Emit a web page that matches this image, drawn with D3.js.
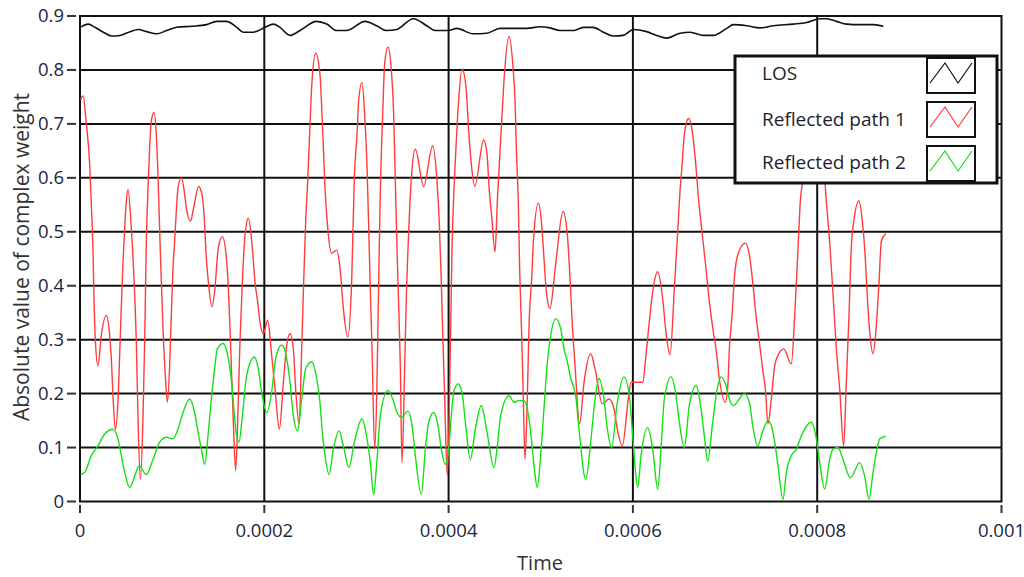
<!DOCTYPE html>
<html>
<head>
<meta charset="utf-8">
<script src="https://cdn.jsdelivr.net/npm/d3@7"></script>
<style>
    body { margin: 0; background: #ffffff; }
    text { font-family: "Open Sans", "Segoe UI", sans-serif; }
</style>
</head>
<body>
<script>
// time in microseconds, value = absolute value of complex weight
const losData = [
    [0, .879], [9.0, .885], [16.3, .879], [25.3, .870], [34.4, .863], [43.4, .864], [54.3, .871], [63.3, .875],
    [72.3, .871], [83.2, .867], [94.1, .873], [104.9, .879], [121.0, .881], [137.5, .884], [148.3, .890], [159.2, .890],
    [170.0, .879], [177.2, .870], [188.1, .870], [200.8, .879], [209.8, .885], [217.0, .879], [227.9, .864], [238.7, .873],
    [256.8, .890], [267.7, .885], [278.5, .873], [289.4, .873], [309.3, .890], [321.9, .882], [332.8, .873], [343.6, .875],
    [361.7, .895], [376.2, .882], [385.2, .873], [399.7, .873], [408.8, .877], [426.8, .867], [441.3, .868], [455.8, .877],
    [484.7, .877], [499.2, .880], [510.0, .878], [520.9, .873], [535.4, .873], [546.2, .879], [557.1, .879], [567.9, .870],
    [578.8, .863], [589.6, .864], [600.5, .875], [614.9, .871], [625.8, .864], [636.7, .859], [651.1, .868], [662.0, .870],
    [676.4, .864], [687.3, .864], [701.8, .877], [709.0, .884], [723.5, .882], [737.9, .878], [752.4, .882], [774.1, .885],
    [788.6, .888], [803.0, .895], [810.3, .895], [821.1, .890], [832.0, .885], [846.5, .884], [860.9, .884], [871.8, .881]
];

const path1Data = [
    [0.7, .745], [3.3, .752], [6.9, .70], [10.5, .625], [12.3, .55], [14.1, .463], [15.2, .376], [16.6, .30], [19.5, .252],
    [23.1, .308], [28.6, .345], [32.2, .308], [34.0, .265], [35.8, .196], [38.3, .134], [41.2, .184], [43.0, .27], [44.9, .364],
    [46.7, .445], [48.5, .507], [50.3, .557], [52.1, .578], [55.7, .507], [58.6, .414], [61.1, .296], [62.9, .159], [65.5, .041],
    [68.4, .159], [70.2, .30], [72.0, .482], [73.8, .581], [75.6, .656], [77.4, .705], [80.3, .721], [82.8, .68], [84.6, .606],
    [87.5, .445], [90.1, .32], [92.6, .234], [94.8, .184], [97.3, .252], [99.1, .345], [100.9, .432], [102.7, .482], [104.5, .538],
    [106.3, .581], [110.0, .60], [113.6, .569], [115.4, .544], [120.1, .52], [122.6, .538], [128.8, .584], [132.4, .569],
    [134.6, .532], [137.1, .451], [138.9, .414], [143.2, .361], [146.1, .389], [150.1, .47], [154.5, .491], [159.2, .445],
    [161.0, .395], [162.8, .32], [164.6, .234], [166.4, .147], [168.9, .057], [171.8, .19], [173.6, .296], [176.2, .407],
    [179.1, .494], [182.7, .525], [187.0, .47], [189.9, .407], [192.8, .37], [195.3, .333], [198.9, .311], [203.7, .336],
    [208.0, .271], [211.6, .209], [216.3, .134], [220.7, .221], [224.3, .29], [227.9, .311], [231.5, .283], [234.0, .209],
    [237.7, .144], [240.6, .283], [242.4, .389], [244.9, .519], [247.1, .594], [249.6, .699], [251.4, .768], [255.7, .831],
    [260.4, .792], [262.3, .73], [264.1, .656], [265.9, .581], [268.8, .507], [273.1, .46], [278.5, .466], [282.2, .432],
    [285.8, .358], [290.5, .305], [294.8, .407], [297.7, .60], [300.6, .68], [302.4, .743], [306.0, .777], [308.9, .718],
    [311.5, .619], [313.3, .507], [315.1, .389], [316.9, .283], [319.8, .097], [322.3, .221], [324.1, .407], [325.9, .575],
    [328.5, .718], [330.6, .811], [334.2, .842], [337.9, .799], [340.4, .718], [342.2, .594], [344.0, .47], [345.8, .364],
    [347.6, .252], [349.4, .072], [352.3, .246], [354.1, .376], [356.7, .50], [359.6, .60], [363.9, .653], [372.9, .584],
    [382.7, .659], [387.4, .594], [390.0, .513], [392.1, .407], [393.6, .314], [395.7, .196], [398.6, .047], [401.9, .283],
    [403.7, .47], [405.5, .563], [408.0, .656], [410.9, .743], [414.5, .802], [418.9, .768], [421.8, .687], [424.7, .625],
    [428.3, .584], [438.1, .67], [441.7, .643], [444.2, .575], [446.7, .53], [450.4, .463], [452.9, .557], [455.4, .637],
    [457.6, .705], [460.1, .78], [465.6, .862], [469.9, .805], [472.1, .743], [473.5, .656], [475.7, .55], [477.1, .432],
    [479.3, .308], [481.1, .19], [482.9, .078], [485.4, .19], [487.3, .327], [490.2, .414], [492.0, .482], [497.4, .553],
    [501.0, .513], [503.5, .451], [506.1, .389], [510.0, .358], [516.2, .44], [524.2, .538], [528.9, .494], [531.4, .426],
    [534.3, .327], [537.2, .252], [542.2, .144], [546.9, .22], [554.2, .274], [558.9, .246], [566.8, .181], [574.1, .19],
    [579.5, .172], [583.1, .134], [588.5, .103], [595.0, .19], [598.0, .221], [610.6, .221], [614.2, .271], [617.8, .333],
    [621.5, .389], [626.9, .426], [632.3, .376], [635.9, .314], [640.3, .272], [645.0, .395], [648.6, .50], [651.1, .575],
    [653.3, .622], [655.8, .68], [660.5, .71], [664.9, .68], [668.5, .619], [671.4, .557], [675.0, .50], [679.3, .432],
    [683.0, .37], [687.3, .314], [690.2, .283], [693.8, .228], [700.3, .184], [702.8, .209], [704.7, .283], [707.6, .345],
    [710.1, .414], [713.7, .457], [722.0, .479], [726.4, .457], [730.0, .407], [733.6, .345], [737.2, .296], [740.8, .246],
    [743.7, .209], [746.6, .144], [750.2, .19], [753.9, .252], [757.5, .271], [763.6, .283], [771.9, .255], [775.6, .345],
    [779.2, .47], [781.7, .557], [784.6, .60], [787.5, .66], [797.3, .78], [808.1, .60], [809.9, .557], [813.5, .482],
    [817.2, .383], [820.8, .283], [824.4, .209], [828.7, .103], [831.6, .221], [834.5, .345], [837.0, .47], [839.6, .519],
    [845.4, .557], [849.0, .519], [851.5, .47], [854.1, .389], [857.0, .314], [860.6, .274], [864.2, .327], [867.1, .407],
    [869.6, .482], [874.3, .497]
];

const path2Data = [
    [0.7, .05], [5.1, .054], [12.3, .085], [19.5, .103], [26.8, .125], [35.8, .134], [41.2, .116], [44.9, .085], [48.5, .054],
    [53.9, .026], [59.3, .047], [64.0, .066], [72.0, .05], [79.2, .078], [86.5, .11], [93.7, .119], [100.9, .116], [106.3, .134],
    [111.8, .165], [119.0, .19], [124.4, .165], [128.8, .122], [131.7, .097], [135.3, .069], [138.9, .122], [142.5, .19],
    [146.1, .246], [149.0, .283], [155.5, .293], [161.0, .265], [164.6, .221], [167.5, .159], [170.0, .122], [172.5, .11],
    [176.2, .159], [180.9, .234], [189.2, .268], [193.5, .246], [197.1, .203], [202.6, .165], [208.0, .203], [212.3, .265],
    [218.9, .29], [224.3, .265], [227.9, .221], [231.5, .159], [236.2, .131], [240.6, .19], [244.9, .246], [251.4, .259],
    [256.8, .228], [260.4, .184], [263.0, .128], [265.9, .085], [270.2, .05], [274.9, .097], [281.1, .131], [285.8, .103],
    [291.9, .063], [297.7, .11], [306.0, .153], [311.5, .116], [315.1, .072], [318.7, .013], [322.3, .078], [325.9, .159],
    [334.2, .206], [339.3, .19], [344.0, .165], [348.7, .156], [355.9, .168], [360.3, .141], [363.9, .085], [370.4, .013],
    [374.8, .097], [378.4, .147], [383.8, .165], [388.5, .141], [392.1, .097], [396.5, .069], [400.1, .097], [403.0, .159],
    [405.5, .203], [410.2, .218], [414.5, .203], [418.2, .147], [423.6, .078], [429.0, .134], [435.5, .178], [441.7, .128],
    [449.3, .063], [452.9, .103], [456.5, .159], [465.6, .196], [471.0, .184], [476.4, .187], [481.8, .187], [485.4, .172],
    [489.1, .128], [492.7, .066], [496.3, .026], [499.9, .085], [503.5, .172], [507.2, .259], [510.8, .308], [516.2, .339],
    [521.6, .321], [525.2, .283], [528.9, .259], [532.5, .228], [537.9, .196], [541.5, .134], [548.8, .041], [554.2, .11],
    [558.9, .19], [563.2, .228], [568.6, .19], [572.3, .134], [576.9, .10], [583.1, .184], [590.4, .231], [596.1, .196],
    [599.8, .122], [602.6, .06], [605.2, .026], [608.8, .085], [616.0, .137], [621.5, .097], [626.9, .023], [630.5, .097],
    [634.1, .19], [641.4, .231], [646.8, .196], [650.4, .147], [655.8, .10], [661.2, .178], [668.5, .215], [673.9, .172],
    [677.5, .122], [681.1, .075], [686.6, .147], [690.9, .203], [695.6, .231], [701.0, .215], [704.7, .19], [709.0, .178],
    [720.9, .20], [726.4, .184], [730.0, .141], [735.4, .103], [740.8, .13], [746.6, .15], [750.2, .141], [753.9, .11],
    [757.5, .066], [762.9, .004], [766.5, .054], [771.9, .085], [777.4, .097], [782.8, .122], [793.6, .147], [799.1, .116],
    [802.7, .072], [808.1, .023], [813.5, .078], [817.2, .097], [822.6, .10], [828.0, .078], [836.0, .044], [846.1, .072],
    [851.5, .047], [856.2, .004], [860.6, .054], [864.2, .091], [867.8, .116], [874.3, .121]
];

const yTicks = [0, 0.1, 0.2, 0.3, 0.4, 0.5, 0.6, 0.7, 0.8, 0.9];
const xTicks = [0, 0.0002, 0.0004, 0.0006, 0.0008, 0.001];
const seriesNames = ["LOS", "Reflected path 1", "Reflected path 2"];
const seriesColors = ["#111111", "#ff3b3b", "#14e014"];

const width = 1024;
const height = 577;
const plotLeft = 80, plotRight = 1001.5, plotTop = 16, plotBottom = 501.5;

const svg = d3.select("body")
    .append("svg")
    .attr("width", width)
    .attr("height", height);

const x = d3.scaleLinear().domain([0, 0.001]).range([plotLeft, plotRight]);
const y = d3.scaleLinear().domain([0, 0.9]).range([plotBottom, plotTop]);

// grid
svg.selectAll(".hgrid")
    .data(yTicks.slice(1, -1))
    .enter()
    .append("line")
    .attr("x1", plotLeft).attr("x2", plotRight)
    .attr("y1", d => y(d)).attr("y2", d => y(d))
    .attr("stroke", "#111")
    .attr("stroke-width", 2);

svg.selectAll(".vgrid")
    .data(xTicks.slice(1, -1))
    .enter()
    .append("line")
    .attr("x1", d => x(d)).attr("x2", d => x(d))
    .attr("y1", plotTop).attr("y2", plotBottom)
    .attr("stroke", "#111")
    .attr("stroke-width", 2);

svg.append("rect")
    .attr("x", plotLeft).attr("y", plotTop)
    .attr("width", plotRight - plotLeft).attr("height", plotBottom - plotTop)
    .attr("fill", "none")
    .attr("stroke", "#111")
    .attr("stroke-width", 2);

// axes ticks and labels
svg.selectAll(".ytick")
    .data(yTicks)
    .enter()
    .append("line")
    .attr("x1", 67).attr("x2", 76)
    .attr("y1", d => y(d)).attr("y2", d => y(d))
    .attr("stroke", "#333")
    .attr("stroke-width", 2);

svg.selectAll(".ylab")
    .data(yTicks)
    .enter()
    .append("text")
    .attr("x", 64)
    .attr("y", d => y(d))
    .attr("dy", "0.35em")
    .attr("text-anchor", "end")
    .attr("font-size", "18.5px")
    .attr("fill", "#1c2542")
    .text(d => d3.format("")(d));

svg.selectAll(".xtick")
    .data(xTicks)
    .enter()
    .append("line")
    .attr("x1", d => x(d)).attr("x2", d => x(d))
    .attr("y1", 505).attr("y2", 513)
    .attr("stroke", "#333")
    .attr("stroke-width", 2);

svg.selectAll(".xlab")
    .data(xTicks)
    .enter()
    .append("text")
    .attr("x", d => x(d))
    .attr("y", 537)
    .attr("text-anchor", "middle")
    .attr("font-size", "18.5px")
    .attr("fill", "#1c2542")
    .text(d => d == 0 ? "0" : d.toFixed(4).replace(/0+$/, ""));

svg.append("text")
    .attr("x", 540)
    .attr("y", 570)
    .attr("text-anchor", "middle")
    .attr("font-size", "20px")
    .attr("fill", "#333")
    .text("Time");

svg.append("text")
    .attr("transform", "translate(29,257) rotate(-90)")
    .attr("text-anchor", "middle")
    .attr("font-size", "21px")
    .attr("fill", "#333")
    .text("Absolute value of complex weight");

// series
const line = d3.line()
    .x(d => x(d[0] / 1e6))
    .y(d => y(d[1]))
    .curve(d3.curveMonotoneX);

[losData, path1Data, path2Data].forEach((data, i) => {
    svg.append("path")
        .datum(data)
        .attr("d", line)
        .attr("fill", "none")
        .attr("stroke", seriesColors[i])
        .attr("stroke-width", i == 0 ? 1.6 : 1.4);
});

// legend
const legend = svg.append("g");
legend.append("rect")
    .attr("x", 735).attr("y", 56)
    .attr("width", 262).attr("height", 127)
    .attr("fill", "white")
    .attr("stroke", "#111")
    .attr("stroke-width", 3);

const rowY = [80, 126, 169];
const boxY = [58, 102, 146];
const zig = d3.line();

seriesNames.forEach((name, i) => {
    legend.append("text")
        .attr("x", 762)
        .attr("y", rowY[i])
        .attr("font-size", "19px")
        .attr("fill", "#1e1e30")
        .text(name);
    legend.append("rect")
        .attr("x", 927).attr("y", boxY[i])
        .attr("width", 48).attr("height", 35)
        .attr("fill", "white")
        .attr("stroke", "#111")
        .attr("stroke-width", 2);
    legend.append("path")
        .attr("d", zig([[930, boxY[i] + 25], [945, boxY[i] + 5], [958, boxY[i] + 25], [972, boxY[i] + 5]]))
        .attr("fill", "none")
        .attr("stroke", seriesColors[i])
        .attr("stroke-width", 1.2);
});
</script>
</body>
</html>
